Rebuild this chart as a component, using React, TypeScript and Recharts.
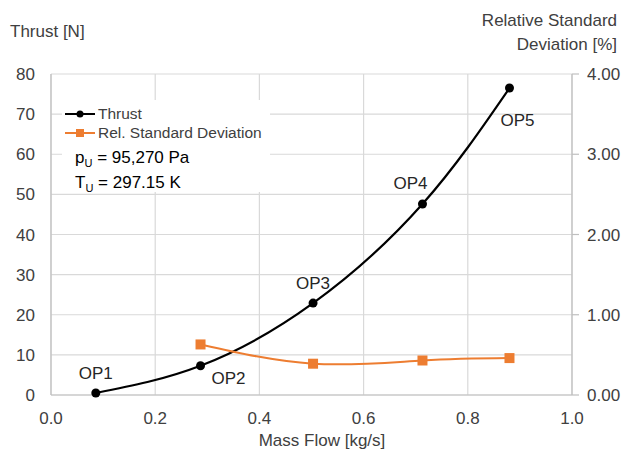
import {
  ComposedChart,
  Line,
  XAxis,
  YAxis,
  CartesianGrid,
  Legend,
  LabelList,
} from "recharts";

// Thrust vs. mass flow, with relative standard deviation on the right axis.

const massFlow = [0.086, 0.287, 0.503, 0.713, 0.88];
const thrust = [0.5, 7.3, 22.9, 47.6, 76.5];
const relStdDev: (number | null)[] = [null, 0.63, 0.39, 0.43, 0.46];
const opLabels = ["OP1", "OP2", "OP3", "OP4", "OP5"];

const xTicks = [0, 0.2, 0.4, 0.6, 0.8, 1.0];
const thrustTicks = [0, 10, 20, 30, 40, 50, 60, 70, 80];
const rsdTicks = [0, 1, 2, 3, 4];

// label nudges for OP1..OP5, relative to the point
const labelOffsets = [
  [0, -19],
  [28, 13],
  [0, -20],
  [-12, -21],
  [8, 32],
];

const data = massFlow.map((x, i) => ({
  x,
  thrust: thrust[i],
  rsd: relStdDev[i],
  op: opLabels[i],
}));

const FONT = "'Liberation Sans', Arial, sans-serif";
const ORANGE = "#ED7D31";
const GRID = "#d9d9d9";
const AXIS = "#bfbfbf";
const TEXT = "#404040";

const SquareDot = (props: any) => {
  const { cx, cy } = props;
  if (cx == null || cy == null || props.value == null) return null;
  return <rect x={cx - 5} y={cy - 5} width={10} height={10} fill={ORANGE} />;
};

const OpLabel = (props: any) => {
  const { x, y, index, value } = props;
  const [dx, dy] = labelOffsets[index] || [0, 0];
  return (
    <text
      x={x + dx}
      y={y + dy}
      textAnchor="middle"
      dominantBaseline="central"
      fill="#262626"
      fontSize={17}
      fontFamily={FONT}
    >
      {value}
    </text>
  );
};

const renderLegend = () => (
  <div
    style={{
      background: "#fff",
      width: 208,
      height: 92,
      fontFamily: FONT,
      color: TEXT,
      paddingTop: 4,
      boxSizing: "border-box",
    }}
  >
    <div style={{ display: "flex", alignItems: "center", height: 19, fontSize: 15.5 }}>
      <svg width={32} height={12} style={{ marginLeft: 3 }}>
        <line x1={0} y1={6} x2={30} y2={6} stroke="#000" strokeWidth={2} />
        <circle cx={15} cy={6} r={3.5} fill="#000" />
      </svg>
      <span style={{ marginLeft: 1 }}>Thrust</span>
    </div>
    <div style={{ display: "flex", alignItems: "center", height: 19, fontSize: 15.5 }}>
      <svg width={32} height={12} style={{ marginLeft: 3 }}>
        <line x1={0} y1={6} x2={30} y2={6} stroke={ORANGE} strokeWidth={2} />
        <rect x={11} y={2} width={8} height={8} fill={ORANGE} />
      </svg>
      <span style={{ marginLeft: 1 }}>Rel. Standard Deviation</span>
    </div>
    <div style={{ fontSize: 17, color: "#000", marginLeft: 13, marginTop: 6, lineHeight: "20px" }}>
      <div>
        p<sub style={{ fontSize: 11 }}>U</sub> = 95,270 Pa
      </div>
      <div>
        T<sub style={{ fontSize: 11 }}>U</sub> = 297.15 K
      </div>
    </div>
  </div>
);

export default function App() {
  return (
    <div
      style={{
        position: "relative",
        width: 626,
        height: 451,
        background: "#fff",
        fontFamily: FONT,
        color: TEXT,
      }}
    >
      <style>{`body{margin:0}`}</style>
      <ComposedChart
        width={626}
        height={451}
        data={data}
        margin={{ top: 74, right: 0, left: 0, bottom: 26 }}
      >
        <CartesianGrid yAxisId="left" stroke={GRID} strokeWidth={1.2} verticalValues={xTicks} />
        <XAxis
          dataKey="x"
          type="number"
          domain={[0, 1]}
          ticks={xTicks}
          tickFormatter={(v: number) => v.toFixed(1)}
          tickLine={false}
          axisLine={{ stroke: AXIS, strokeWidth: 1.2 }}
          tickMargin={11}
          height={30}
          tick={{ fill: TEXT, fontSize: 17, fontFamily: FONT }}
        />
        <YAxis
          yAxisId="left"
          domain={[0, 80]}
          ticks={thrustTicks}
          tickLine={false}
          axisLine={{ stroke: AXIS, strokeWidth: 1.2 }}
          width={51}
          tickMargin={10}
          tick={{ fill: TEXT, fontSize: 17, fontFamily: FONT }}
        />
        <YAxis
          yAxisId="right"
          orientation="right"
          domain={[0, 4]}
          ticks={rsdTicks}
          tickFormatter={(v: number) => v.toFixed(2)}
          tickLine={{ stroke: AXIS, strokeWidth: 1.2 }}
          tickSize={7}
          tickMargin={8}
          axisLine={{ stroke: AXIS, strokeWidth: 1.2 }}
          width={54}
          tick={{ fill: TEXT, fontSize: 17, fontFamily: FONT, textAnchor: "start" }}
        />
        <Legend
          layout="horizontal"
          verticalAlign="middle"
          content={renderLegend}
          wrapperStyle={{ left: 62, top: 100, width: 208 }}
        />
        <Line
          yAxisId="left"
          dataKey="thrust"
          type="natural"
          stroke="#000"
          strokeWidth={2.2}
          dot={{ r: 4.5, fill: "#000", stroke: "#000", strokeWidth: 0 }}
          activeDot={false}
          isAnimationActive={false}
        >
          <LabelList dataKey="op" content={OpLabel} />
        </Line>
        <Line
          yAxisId="right"
          dataKey="rsd"
          type="natural"
          stroke={ORANGE}
          strokeWidth={2}
          dot={<SquareDot />}
          activeDot={false}
          isAnimationActive={false}
        />
      </ComposedChart>
      <div style={{ position: "absolute", left: 10, top: 22, fontSize: 17 }}>Thrust [N]</div>
      <div
        style={{
          position: "absolute",
          right: 9,
          top: 9,
          fontSize: 17,
          textAlign: "right",
          lineHeight: "24px",
        }}
      >
        Relative Standard
        <br />
        Deviation [%]
      </div>
      <div
        style={{
          position: "absolute",
          left: 0,
          width: 626,
          top: 432,
          fontSize: 17,
          lineHeight: "18px",
          textAlign: "center",
          paddingLeft: 18,
          boxSizing: "border-box",
        }}
      >
        Mass Flow [kg/s]
      </div>
    </div>
  );
}
